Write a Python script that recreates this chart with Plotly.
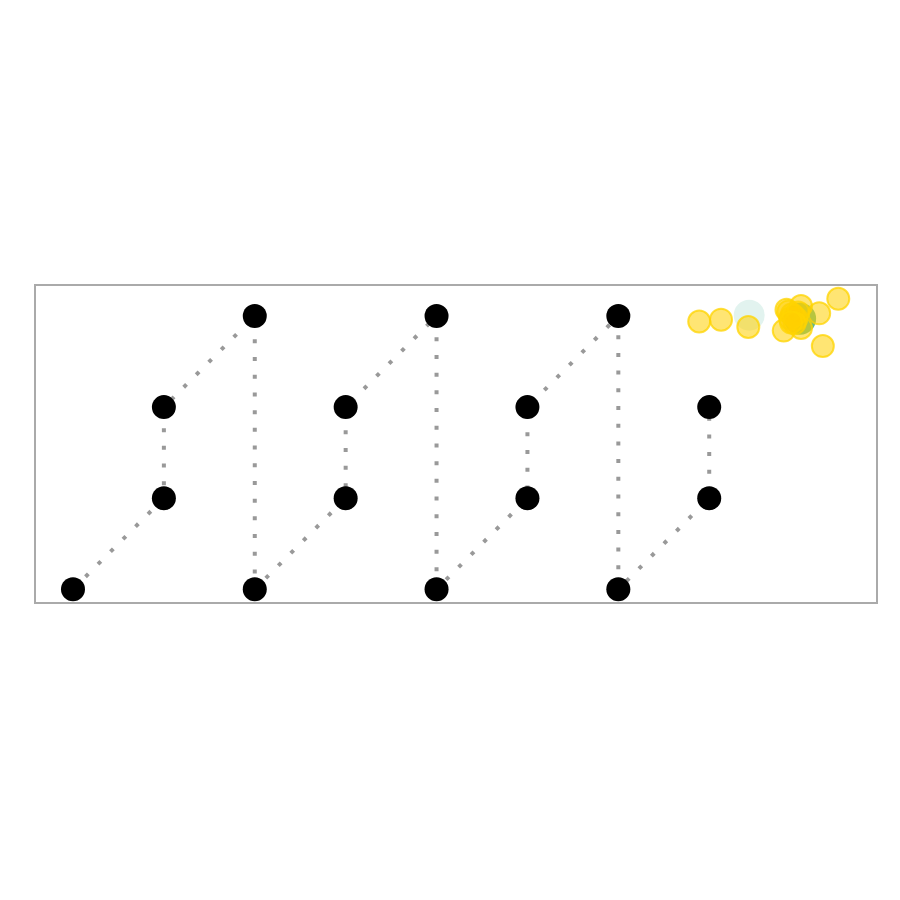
import plotly.graph_objects as go

path_x = [0, 1, 1, 2, 2, 3, 3, 4, 4, 5, 5, 6, 6, 7, 7]
path_y = [0, 1, 2, 3, 0, 1, 2, 3, 0, 1, 2, 3, 0, 1, 2]

cloud_x = [6.89, 7.13, 7.43, 7.82, 8.42, 8.21, 8.25, 8.01, 8.01, 7.85, 7.91, 7.96, 7.89,
           7.87, 7.93, 7.98, 7.94, 7.90]
cloud_y = [2.94, 2.96, 2.88, 2.84, 3.19, 3.03, 2.67, 3.11, 2.87, 3.07, 3.02, 2.97, 2.97,
           3.05, 3.00, 3.04, 2.92, 2.93]

ghost_x = [7.44]
ghost_y = [3.01]
green_x = [8.00]
green_y = [2.97]

fig = go.Figure()
fig.add_trace(go.Scatter(
    x=path_x, y=path_y, mode="lines+markers",
    line=dict(color="#999999", width=4, dash="4px,13.7px"),
    marker=dict(color="black", size=24, line=dict(width=0)),
    hoverinfo="skip",
))
fig.add_trace(go.Scatter(
    x=ghost_x, y=ghost_y, mode="markers",
    marker=dict(color="#8fd3c0", size=28, opacity=0.25,
                line=dict(color="#8fd3c0", width=3)),
))
fig.add_trace(go.Scatter(
    x=green_x, y=green_y, mode="markers",
    marker=dict(color="#3aa86b", size=32, opacity=0.8, line=dict(width=0)),
))
fig.add_trace(go.Scatter(
    x=cloud_x, y=cloud_y, mode="markers",
    marker=dict(color="rgba(255,208,0,0.55)", size=22,
                line=dict(color="rgba(255,212,0,0.75)", width=2)),
))

fig.update_layout(
    width=900, height=900,
    margin=dict(l=28, r=32, t=278, b=306),
    plot_bgcolor="white", paper_bgcolor="white",
    showlegend=False,
)
fig.update_xaxes(range=[-0.407, 8.835], showgrid=False, zeroline=False,
                 showticklabels=False, ticks="", showline=True, mirror=True,
                 linecolor="#aaaaaa", linewidth=2)
fig.update_yaxes(range=[-0.14, 3.33], showgrid=False, zeroline=False,
                 showticklabels=False, ticks="", showline=True, mirror=True,
                 linecolor="#aaaaaa", linewidth=2)

fig.write_html("out.html")
